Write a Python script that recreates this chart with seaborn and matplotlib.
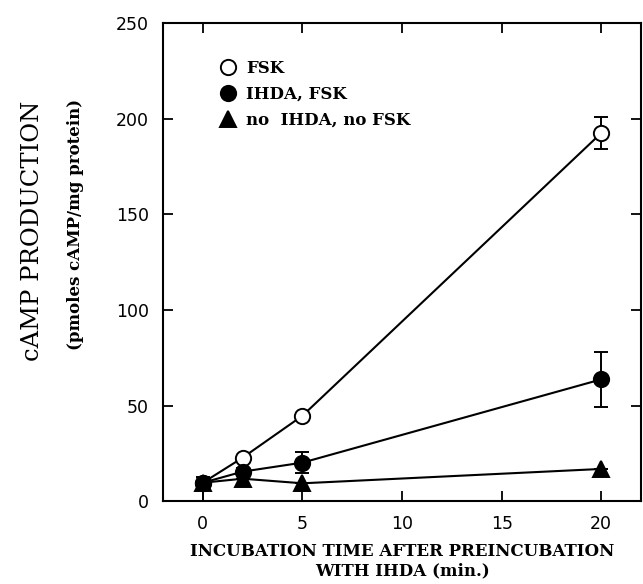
import numpy as np
import pandas as pd
import seaborn as sns
import matplotlib.pyplot as plt

sns.set_theme(style="ticks")
plt.rcParams["font.family"] = ["DejaVu Sans"]
plt.rcParams["text.color"] = "black"
plt.rcParams["axes.labelcolor"] = "black"
plt.rcParams["xtick.color"] = "black"
plt.rcParams["ytick.color"] = "black"

times = [0, 2, 5, 20]
fsk = [9.8, 22.9, 44.8, 192.5]
fsk_err_lo = [0, 0, 0, 8.3]
fsk_err_hi = [0, 0, 0, 8.3]
ihda_fsk = [9.8, 15.6, 20.3, 63.8]
ihda_fsk_err_lo = [9.8, 2.0, 5.5, 14.5]
ihda_fsk_err_hi = [3.0, 2.0, 5.5, 14.5]
no_no = [9.8, 11.9, 9.5, 17.0]
no_no_err_lo = [0, 0, 0, 0]
no_no_err_hi = [0, 0, 0, 0]
labels = ["FSK", "IHDA, FSK", "no  IHDA, no FSK"]

series = [
    (labels[0], fsk, [fsk_err_lo, fsk_err_hi], "o", "white"),
    (labels[1], ihda_fsk, [ihda_fsk_err_lo, ihda_fsk_err_hi], "o", "black"),
    (labels[2], no_no, [no_no_err_lo, no_no_err_hi], "^", "black"),
]

fig = plt.figure(figsize=(6.43, 5.84), dpi=100)
ax = fig.add_axes([0.2535, 0.1413, 0.7435, 0.8193])

serif = "DejaVu Serif"

for name, vals, errs, mk, fc in series:
    df = pd.DataFrame({"t": times, "v": vals})
    ax.errorbar(times, vals, yerr=errs, fmt="none", ecolor="black",
                elinewidth=1.4, capsize=5, capthick=1.4, zorder=2)
    sns.lineplot(data=df, x="t", y="v", ax=ax, color="black", linewidth=1.5,
                 marker=mk, markersize=11,
                 markerfacecolor=fc, markeredgecolor="black",
                 markeredgewidth=1.4, label=name, zorder=3)

ax.set_xlim(-2, 22)
ax.set_ylim(0, 250)
ax.set_xticks([0, 5, 10, 15, 20])
ax.set_yticks([0, 50, 100, 150, 200, 250])
ax.tick_params(direction="in", length=7, width=1.3, top=True, right=True,
               labelsize=12.5, pad=10)
for s in ax.spines.values():
    s.set_linewidth(1.5)
    s.set_color("black")

ax.set_xlabel("INCUBATION TIME AFTER PREINCUBATION\nWITH IHDA (min.)",
              family=serif, fontweight="bold", fontsize=12, labelpad=7,
              linespacing=1.2)
ax.set_ylabel("")
fig.text(0.05, 0.604, "cAMP PRODUCTION", rotation=90, family=serif,
         fontsize=17.5, ha="center", va="center")
fig.text(0.117, 0.615, "(pmoles cAMP/mg protein)", rotation=90, family=serif,
         fontweight="bold", fontsize=12, ha="center", va="center")

leg = ax.legend(frameon=False, loc="upper left", bbox_to_anchor=(0.09, 0.955),
                handlelength=0.8, handletextpad=0.7, labelspacing=0.55,
                prop={"family": serif, "weight": "bold", "size": 12})
for h in leg.legend_handles:
    h.set_linestyle("none")

fig.savefig("out.png", dpi=100)
